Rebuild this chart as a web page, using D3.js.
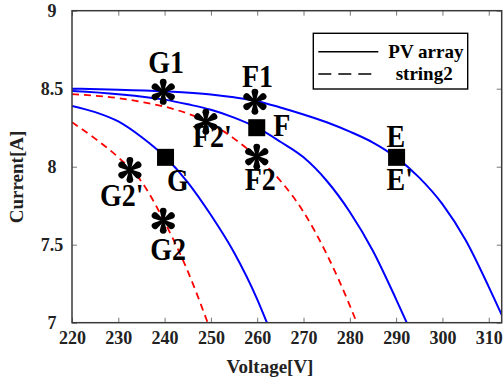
<!DOCTYPE html>
<html>
<head>
<meta charset="utf-8">
<script src="https://cdn.jsdelivr.net/npm/d3@7"></script>
<style>
  body { margin: 0; background: #fff; }
  svg { display: block; }
  text { font-family: "Liberation Serif", "Times New Roman", serif; font-weight: bold; }
</style>
</head>
<body>
<script>
// ---- axis ticks ----
const xTicks = [220, 230, 240, 250, 260, 270, 280, 290, 300, 310];
const yTicks = [7, 7.5, 8, 8.5, 9];
const yTickLabels = ["7", "7.5", "8", "8.5", "9"];

// ---- I-V curves (voltage in V, current in A) ----
// PV array, operating point E
const pvE_V = [220, 230, 240, 250, 255, 260, 265, 270, 275, 280, 285, 290, 295, 300, 305, 310, 312.8];
const pvE_I = [8.50, 8.494, 8.483, 8.463, 8.445, 8.42, 8.38, 8.335, 8.285, 8.225, 8.155, 8.06, 7.93, 7.76, 7.53, 7.23, 7.05];
// PV array, operating point F
const pvF_V = [220, 230, 240, 245, 250, 255, 260, 265, 270, 275, 280, 285, 290, 292.3];
const pvF_I = [8.485, 8.465, 8.43, 8.40, 8.365, 8.315, 8.25, 8.16, 8.06, 7.91, 7.71, 7.46, 7.15, 7.0];
// PV array, operating point G
const pvG_V = [220, 225, 230, 235, 240, 245, 250, 255, 260, 262.1];
const pvG_I = [8.39, 8.35, 8.29, 8.19, 8.065, 7.90, 7.69, 7.45, 7.15, 7.0];
// string2, near F
const s2F_V = [220, 225, 230, 235, 240, 245, 250, 255, 260, 265, 270, 275, 280, 281.5];
const s2F_I = [8.465, 8.455, 8.44, 8.415, 8.385, 8.34, 8.275, 8.18, 8.06, 7.91, 7.71, 7.44, 7.11, 7.0];
// string2, near G
const s2G_V = [220, 225, 230, 235, 240, 245, 249.3];
const s2G_I = [8.285, 8.18, 8.06, 7.905, 7.645, 7.33, 7.0];

// ---- marked points ----
const starNames = ["G1", "F1", "F2", "F2'", "G2'", "G2"];
const starV = [239.7, 259.5, 259.9, 248.9, 232.5, 239.7];
const starI = [8.48, 8.417, 8.064, 8.288, 7.979, 7.654];
const squareNames = ["G", "F", "E"];
const squareV = [240.2, 259.9, 290.1];
const squareI = [8.06, 8.25, 8.06];

// ---- legend ----
const legendLabels = ["PV array", "string2"];

// ---- layout ----
const W = 503, H = 385;
const plot = { left: 72, right: 501.7, top: 10.7, bottom: 322.7 };
const frameColor = "#3a3a3a";

const svg = d3.select("body").append("svg").attr("width", W).attr("height", H);

const x = d3.scaleLinear().domain([220, 312.8]).range([plot.left, plot.right]);
const y = d3.scaleLinear().domain([7, 9]).range([plot.bottom, plot.top]);

svg.append("defs").append("clipPath").attr("id", "plotClip")
  .append("rect")
  .attr("x", plot.left).attr("y", plot.top)
  .attr("width", plot.right - plot.left).attr("height", plot.bottom - plot.top);

// ---- axes: inward ticks on all four sides ----
const tickLen = 5;
const xAxisB = d3.axisBottom(x).tickValues(xTicks).tickSizeInner(-tickLen).tickSizeOuter(0).tickPadding(9).tickFormat(d3.format("d"));
const xAxisT = d3.axisTop(x).tickValues(xTicks).tickSizeInner(-tickLen).tickSizeOuter(0).tickFormat("");
const yAxisL = d3.axisLeft(y).tickValues(yTicks).tickSizeInner(-tickLen).tickSizeOuter(0).tickFormat("");
const yAxisR = d3.axisRight(y).tickValues(yTicks).tickSizeInner(-tickLen).tickSizeOuter(0).tickFormat("");

function styleAxis(g) {
  g.select(".domain").remove();
  g.selectAll(".tick line").attr("stroke", "#777").attr("stroke-width", 1);
}
svg.append("g").attr("transform", `translate(0,${plot.bottom})`).call(xAxisB).call(styleAxis)
  .selectAll("text").attr("font-size", 18).attr("fill", "#222")
  .style("font-family", "'Liberation Serif', serif").style("font-weight", "bold");
svg.append("g").attr("transform", `translate(0,${plot.top})`).call(xAxisT).call(styleAxis);
svg.append("g").attr("transform", `translate(${plot.left},0)`).call(yAxisL).call(styleAxis);
svg.append("g").attr("transform", `translate(${plot.right},0)`).call(yAxisR).call(styleAxis);

// y tick labels, centred in the left margin
svg.append("g").selectAll("text").data(yTicks).join("text")
  .attr("x", 52).attr("y", d => y(d)).attr("dy", "0.35em")
  .attr("text-anchor", "middle").attr("font-size", 18).attr("fill", "#222")
  .text((d, i) => yTickLabels[i]);

// ---- curves ----
const line = d3.line().x(d => x(d[0])).y(d => y(d[1])).curve(d3.curveMonotoneX);
const zipVI = (V, I) => V.map((v, i) => [v, I[i]]);

const curves = svg.append("g").attr("clip-path", "url(#plotClip)");
[[pvE_V, pvE_I], [pvF_V, pvF_I], [pvG_V, pvG_I]].forEach(([V, I]) => {
  curves.append("path").attr("d", line(zipVI(V, I)))
    .attr("fill", "none").attr("stroke", "#0000ff").attr("stroke-width", 2);
});
[[s2F_V, s2F_I], [s2G_V, s2G_I]].forEach(([V, I]) => {
  curves.append("path").attr("d", line(zipVI(V, I)))
    .attr("fill", "none").attr("stroke", "#ff0000").attr("stroke-width", 1.8)
    .attr("stroke-dasharray", "7,5");
});

// ---- frame ----
svg.append("rect")
  .attr("x", plot.left).attr("y", plot.top)
  .attr("width", plot.right - plot.left).attr("height", plot.bottom - plot.top)
  .attr("fill", "none").attr("stroke", frameColor).attr("stroke-width", 1.5);

// ---- markers ----
// one teardrop petal of the asterisk, pointing along +x
function petalPath(r) {
  const h = 3.4, a = r - h;
  return `M0,-1 L${a},${-h} A${h},${h} 0 1 1 ${a},${h} L0,1 Z`;
}
const starAngles = [-90, 90, -32, 32, 148, 212];
const stars = svg.append("g");
starNames.forEach((n, i) => {
  const g = stars.append("g").attr("transform", `translate(${x(starV[i])},${y(starI[i])})`);
  starAngles.forEach(a => {
    g.append("path").attr("d", petalPath(13)).attr("transform", `rotate(${a})`).attr("fill", "#000");
  });
  g.append("circle").attr("r", 2.6).attr("fill", "#000");
});

const sq = 17;
svg.append("g").selectAll("rect").data(squareNames).join("rect")
  .attr("x", (d, i) => x(squareV[i]) - sq / 2)
  .attr("y", (d, i) => y(squareI[i]) - sq / 2)
  .attr("width", sq).attr("height", sq).attr("fill", "#000");

// ---- point labels (offsets in px from the marked point) ----
const labelOffsets = {
  "G1": [-15, -19], "F1": [-13, -15], "F2": [-12, 33], "F2'": [-13, 25],
  "G2'": [-30, 36], "G2": [-13, 39]
};
const squareLabelOffsets = {
  "G": [[ "G", 1.5, 34 ]],
  "F": [[ "F", 16.5, 8 ]],
  "E": [[ "E", -10, -10.6 ], [ "E'", -10, 33 ]]
};
const labels = svg.append("g").attr("font-size", 28).attr("fill", "#000");
function addLabel(t, px, py) {
  // tall bold serif lettering
  labels.append("text").attr("transform", `translate(${px},${py}) scale(1,1.13)`).text(t);
}
starNames.forEach((n, i) => {
  const [dx, dy] = labelOffsets[n];
  addLabel(n, x(starV[i]) + dx, y(starI[i]) + dy);
});
squareNames.forEach((n, i) => {
  squareLabelOffsets[n].forEach(([t, dx, dy]) => {
    addLabel(t, x(squareV[i]) + dx, y(squareI[i]) + dy);
  });
});

// ---- axis titles ----
svg.append("text").attr("x", 270).attr("y", 373).attr("text-anchor", "middle")
  .attr("font-size", 19).attr("fill", "#222").text("Voltage[V]");
svg.append("text").attr("transform", "translate(23,177) rotate(-90)").attr("text-anchor", "middle")
  .attr("font-size", 19).attr("fill", "#222").text("Current[A]");

// ---- legend ----
const leg = svg.append("g");
leg.append("rect").attr("x", 313.3).attr("y", 33.3).attr("width", 154.4).attr("height", 55.7)
  .attr("fill", "#fff").attr("stroke", "#000").attr("stroke-width", 1.4);
const legRows = [{ y: 51.7, dash: null, tx: 388.3 }, { y: 74, dash: "13,7", tx: 395.7 }];
legRows.forEach((r, i) => {
  leg.append("line").attr("x1", 318.3).attr("x2", 378.3).attr("y1", r.y).attr("y2", r.y)
    .attr("stroke", "#000").attr("stroke-width", 1.6).attr("stroke-dasharray", r.dash);
  leg.append("text").attr("x", r.tx).attr("y", r.y).attr("dy", "0.32em")
    .attr("font-size", 19).attr("fill", "#000").text(legendLabels[i]);
});
</script>
</body>
</html>
